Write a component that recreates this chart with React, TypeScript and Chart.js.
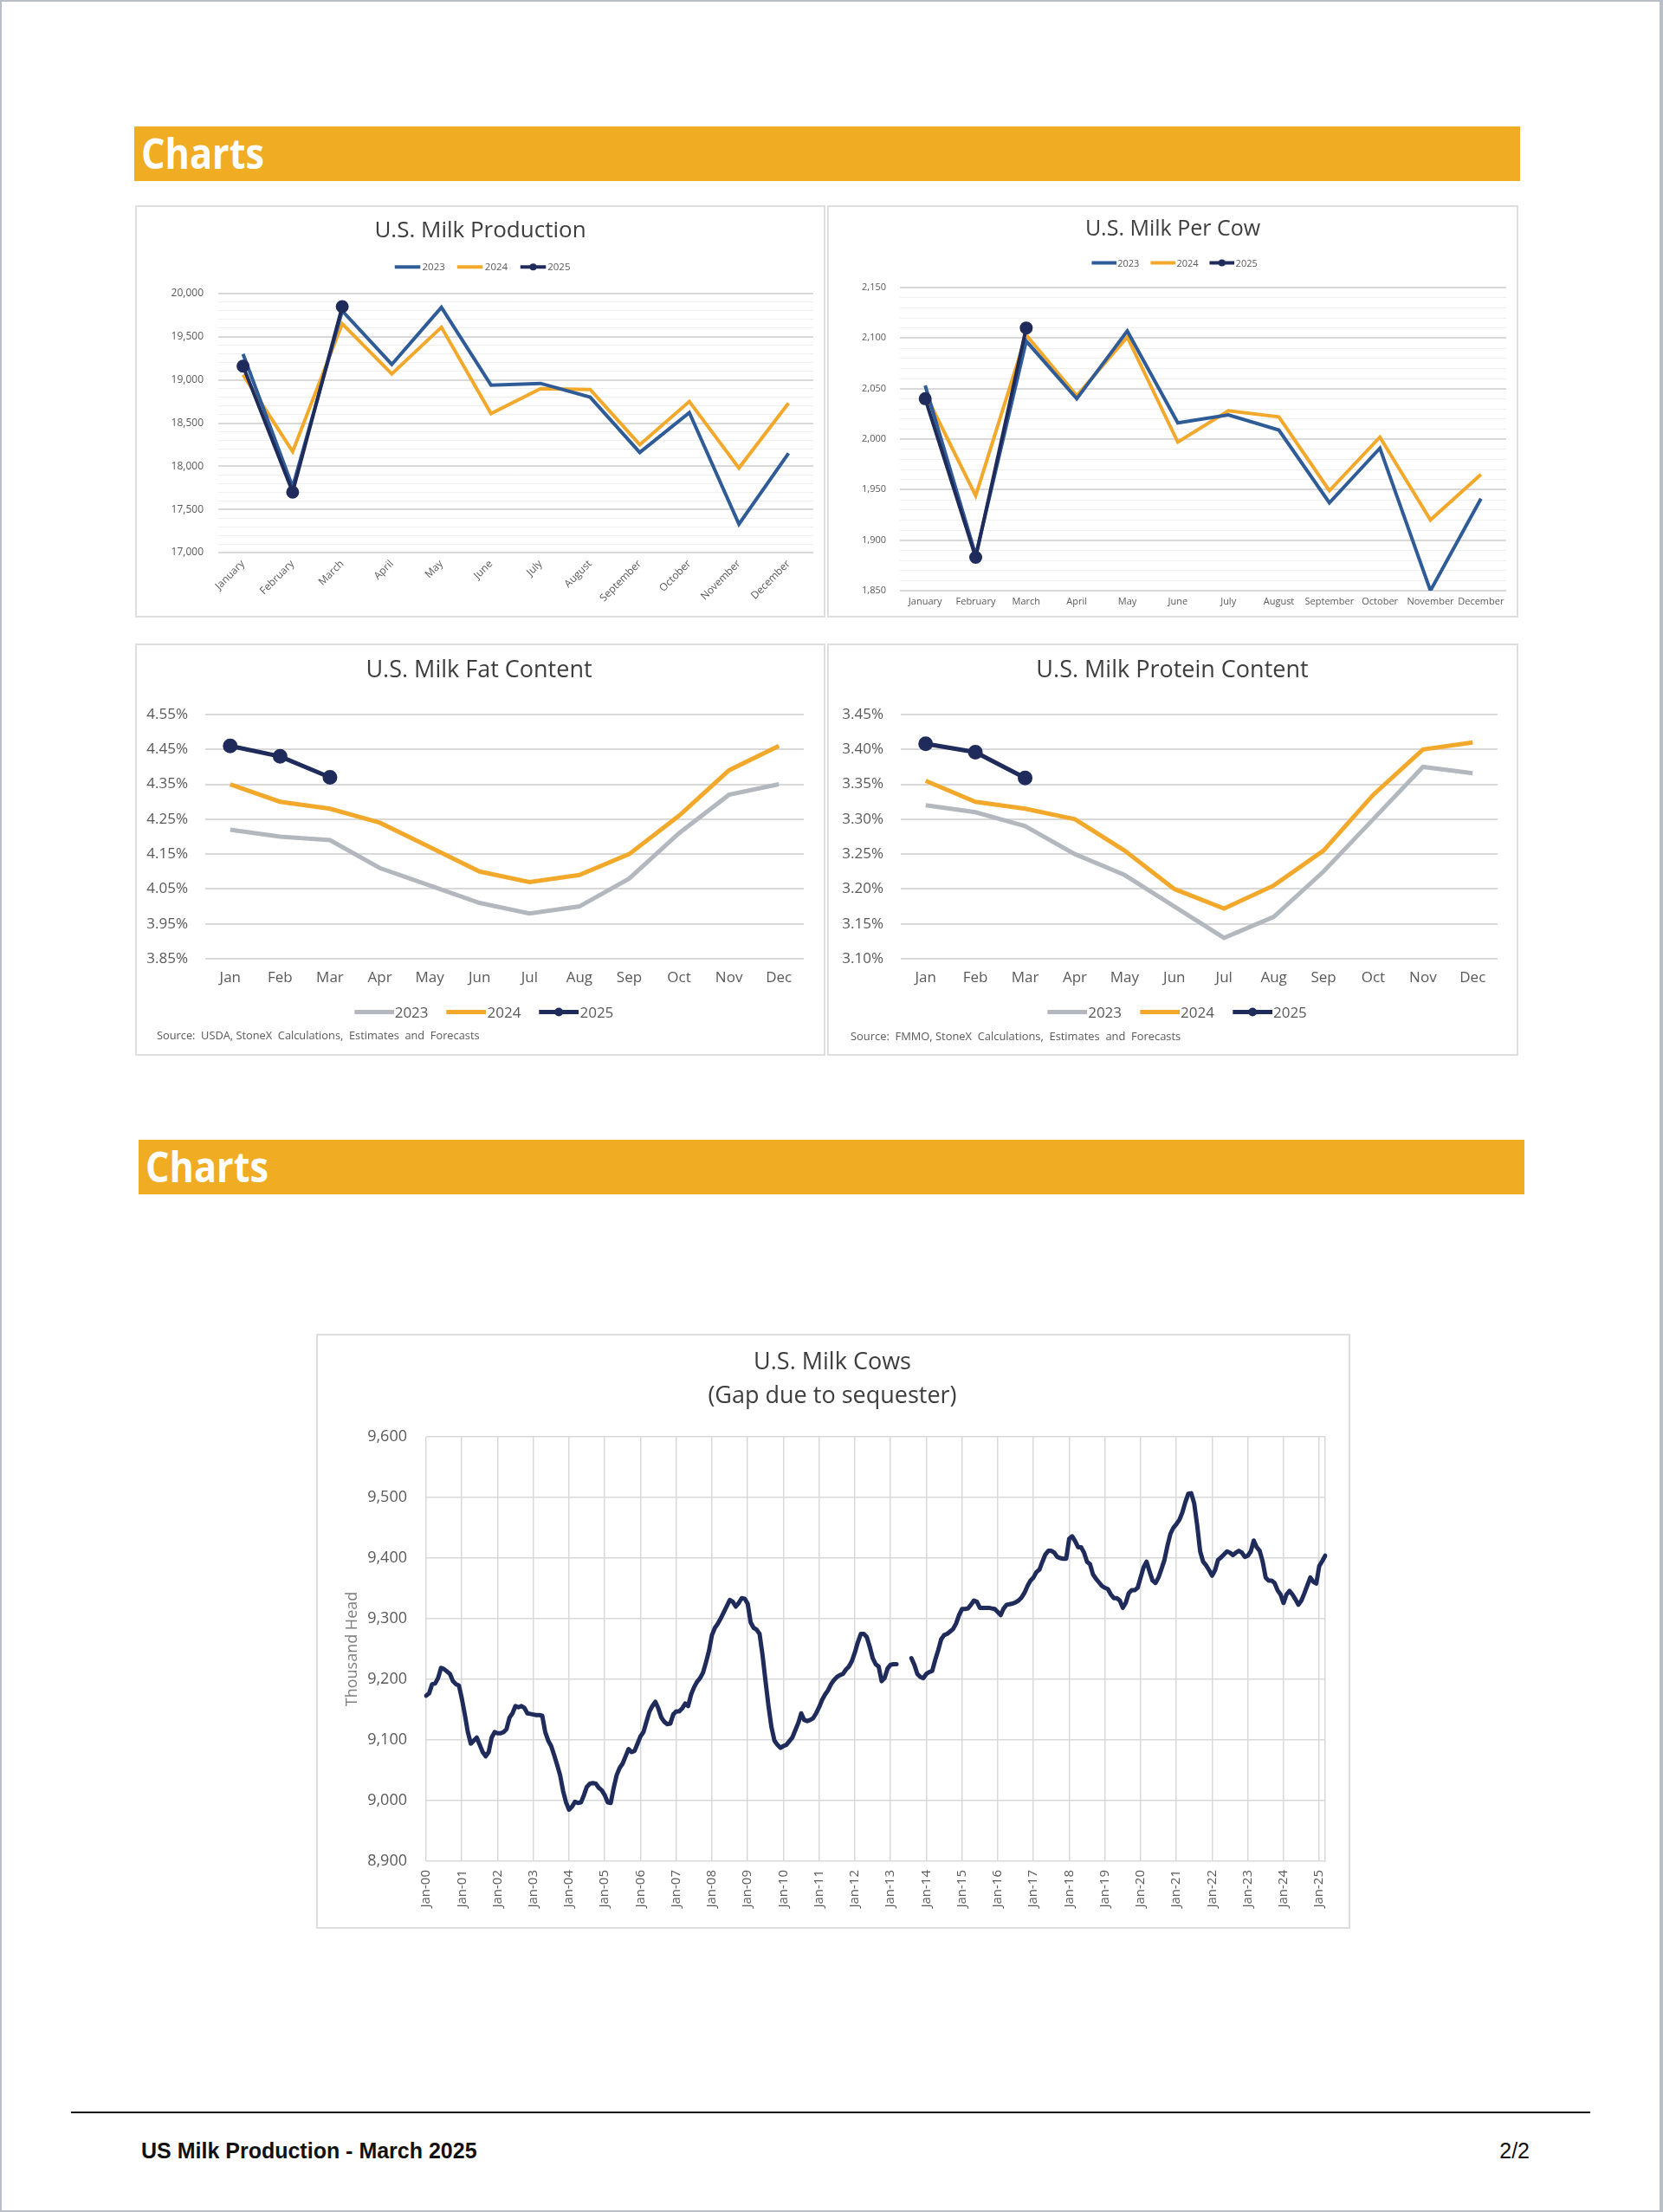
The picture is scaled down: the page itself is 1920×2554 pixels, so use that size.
import React, { useEffect, useRef } from 'react';
import { Chart, registerables } from 'chart.js';

Chart.register(...registerables);

const FONT = "'Open Sans', sans-serif";
const NAVY = '#1f2b5b';
const BLUE = '#2f5c97';
const ORANGE = '#f2a92b';
const GREY = '#b3b8bf';
const TICK = '#595959';
const TITLE = '#3d3d3d';
const GRID = '#d9d9d9';
const GRID_MINOR = '#efefef';

// ---------- data ----------
const monthsLong = ['January', 'February', 'March', 'April', 'May', 'June', 'July', 'August', 'September', 'October', 'November', 'December'];
const monthsShort = ['Jan', 'Feb', 'Mar', 'Apr', 'May', 'Jun', 'Jul', 'Aug', 'Sep', 'Oct', 'Nov', 'Dec'];

const production2023 = [19300, 17760, 19800, 19180, 19840, 18940, 18960, 18800, 18160, 18620, 17330, 18150];
const production2024 = [19060, 18170, 19650, 19070, 19610, 18610, 18900, 18890, 18250, 18750, 17980, 18730];
const production2025 = [19160, 17700, 19850];

const perCow2023 = [2053, 1885, 2097, 2040, 2107, 2016, 2024, 2009, 1937, 1991, 1850, 1941];
const perCow2024 = [2045, 1944, 2103, 2043, 2101, 1997, 2028, 2022, 1949, 2002, 1920, 1965];
const perCow2025 = [2040, 1883, 2110];

const fat2023 = [4.22, 4.2, 4.19, 4.11, 4.06, 4.01, 3.98, 4.0, 4.08, 4.21, 4.32, 4.35];
const fat2024 = [4.35, 4.3, 4.28, 4.24, 4.17, 4.1, 4.07, 4.09, 4.15, 4.26, 4.39, 4.46];
const fat2025 = [4.46, 4.43, 4.37];

const protein2023 = [3.32, 3.31, 3.29, 3.25, 3.22, 3.175, 3.13, 3.16, 3.225, 3.3, 3.375, 3.366];
const protein2024 = [3.355, 3.325, 3.315, 3.3, 3.255, 3.2, 3.172, 3.205, 3.255, 3.335, 3.4, 3.41];
const protein2025 = [3.408, 3.396, 3.359];

// U.S. milk cows, thousand head, monthly Jan-2000 .. Mar-2025 (gap in 2013)
const milkCows: (number | null)[] = [
  9173, 9177, 9192, 9193, 9202, 9219, 9217, 9213, 9209, 9197, 9192, 9190,
  9168, 9142, 9113, 9094, 9099, 9104, 9092, 9080, 9073, 9080, 9104, 9113,
  9111, 9111, 9113, 9118, 9137, 9144, 9156, 9154, 9156, 9153, 9144, 9143,
  9142, 9141, 9141, 9140, 9113, 9099, 9090, 9075, 9059, 9042, 9016, 8997,
  8985, 8990, 8998, 8996, 8997, 9009, 9023, 9028, 9029, 9028, 9021, 9017,
  9009, 8997, 8996, 9021, 9042, 9054, 9061, 9073, 9085, 9080, 9082, 9094,
  9106, 9113, 9130, 9147, 9156, 9163, 9152, 9137, 9130, 9126, 9127, 9142,
  9147, 9147, 9152, 9160, 9156, 9175, 9187, 9196, 9202, 9211, 9228, 9247,
  9273, 9285, 9292, 9301, 9311, 9321, 9331, 9328, 9320, 9326, 9334, 9333,
  9325, 9294, 9285, 9282, 9275, 9240, 9197, 9156, 9121, 9099, 9092, 9087,
  9090, 9092, 9098, 9104, 9116, 9128, 9144, 9133, 9131, 9133, 9136, 9144,
  9154, 9166, 9175, 9182, 9192, 9199, 9204, 9207, 9209, 9216, 9221, 9230,
  9244, 9261, 9275, 9275, 9270, 9254, 9235, 9225, 9221, 9197, 9202, 9218,
  9224, 9225, 9225, null, null, null, null, 9235, 9224, 9209, 9204, 9202,
  9209, 9212, 9214, 9232, 9248, 9266, 9273, 9275, 9279, 9283, 9292, 9306,
  9316, 9316, 9317, 9323, 9330, 9328, 9318, 9318, 9318, 9318, 9317, 9316,
  9311, 9306, 9317, 9323, 9324, 9325, 9327, 9330, 9335, 9343, 9354, 9363,
  9368, 9377, 9381, 9394, 9406, 9412, 9412, 9409, 9402, 9400, 9399, 9399,
  9432, 9436, 9428, 9418, 9418, 9409, 9394, 9390, 9373, 9366, 9360, 9354,
  9351, 9349, 9340, 9334, 9334, 9330, 9318, 9326, 9342, 9347, 9347, 9351,
  9368, 9385, 9394, 9378, 9363, 9359, 9368, 9382, 9397, 9420, 9440, 9450,
  9456, 9463, 9475, 9492, 9506, 9507, 9490, 9454, 9411, 9394, 9388, 9380,
  9371, 9380, 9397, 9401, 9406, 9411, 9409, 9405, 9409, 9412, 9409, 9402,
  9404, 9411, 9429, 9418, 9412, 9394, 9368, 9363, 9363, 9359, 9347, 9340,
  9326, 9340, 9346, 9340, 9332, 9323, 9330, 9342, 9355, 9368, 9361, 9358,
  9387, 9395, 9404,
];
const cowStartYear = 2000;
const cowLabels: string[] = milkCows.map((_, i) => {
  const y = (cowStartYear + Math.floor(i / 12)) % 100;
  return `${monthsShort[i % 12]}-${String(y).padStart(2, '0')}`;
});

// ---------- helpers ----------
const font = (size: number) => ({ family: FONT, size, weight: 'normal' as const });

function ChartCanvas({ x, y, w, h, config }: { x: number; y: number; w: number; h: number; config: any }) {
  const ref = useRef<HTMLCanvasElement | null>(null);
  useEffect(() => {
    const chart = new Chart(ref.current as HTMLCanvasElement, config);
    return () => chart.destroy();
  }, []);
  return (
    <canvas
      ref={ref}
      width={w}
      height={h}
      style={{ position: 'absolute', left: x, top: y, width: w, height: h }}
    />
  );
}

function Box({ x, y, w, h }: { x: number; y: number; w: number; h: number }) {
  return (
    <div
      style={{
        position: 'absolute', left: x, top: y, width: w, height: h,
        boxSizing: 'border-box', border: '2px solid #dedede', background: '#fff',
      }}
    />
  );
}

function Txt(props: {
  x: number; baseline: number; size: number; text: string; align?: 'left' | 'center' | 'right';
  weight?: number; color?: string; family?: string; asc?: number; desc?: number; scaleX?: number; pre?: boolean;
}) {
  const { x, baseline, size, text, align = 'center', weight = 400, color = TITLE, family = FONT, asc = 1.069, desc = 0.293, scaleX = 1, pre } = props;
  const top = baseline - asc * size;
  let transform = '';
  let origin = 'left center';
  if (align === 'center') { transform = `translateX(-50%) scaleX(${scaleX})`; origin = 'center center'; }
  else if (align === 'right') { transform = `translateX(-100%) scaleX(${scaleX})`; origin = 'right center'; }
  else transform = `scaleX(${scaleX})`;
  return (
    <div
      style={{
        position: 'absolute', left: x, top, fontSize: size, lineHeight: `${(asc + desc) * size}px`,
        fontFamily: family, fontWeight: weight, color, whiteSpace: pre ? 'pre' : 'nowrap',
        transform, transformOrigin: origin,
      }}
    >
      {text}
    </div>
  );
}

type LegendItem = { label: string; color: string; marker?: boolean };
function Legend(props: {
  cx: number; cy: number; items: LegendItem[]; lineW: number; thick: number; size: number;
  gapLine: number; gapItem: number; markerR: number;
}) {
  const { cx, cy, items, lineW, thick, size, gapLine, gapItem, markerR } = props;
  const svgH = Math.max(thick, markerR * 2) + 2;
  return (
    <div
      style={{
        position: 'absolute', left: cx, top: cy, transform: 'translate(-50%, -50%)',
        display: 'flex', alignItems: 'center', whiteSpace: 'nowrap', fontFamily: FONT,
        fontSize: size, color: TICK, lineHeight: 1,
      }}
    >
      {items.map((it, i) => (
        <div key={it.label} style={{ display: 'flex', alignItems: 'center', marginLeft: i ? gapItem : 0 }}>
          <svg width={lineW} height={svgH} style={{ display: 'block' }}>
            <line x1={0} x2={lineW} y1={svgH / 2} y2={svgH / 2} stroke={it.color} strokeWidth={thick} />
            {it.marker ? <circle cx={lineW / 2} cy={svgH / 2} r={markerR} fill={it.color} /> : null}
          </svg>
          <span style={{ marginLeft: gapLine }}>{it.label}</span>
        </div>
      ))}
    </div>
  );
}

const baseOptions = {
  animation: false as const,
  responsive: false,
  events: [] as any[],
  plugins: { legend: { display: false }, title: { display: false }, tooltip: { enabled: false } },
  elements: { line: { tension: 0 } },
};

function yearSeries(d23: number[], d24: number[], d25: number[], c23: string, w: number, r: number) {
  return [
    { label: '2025', data: d25, borderColor: NAVY, backgroundColor: NAVY, borderWidth: w, pointRadius: r, pointBackgroundColor: NAVY, pointBorderColor: NAVY, order: 0 },
    { label: '2023', data: d23, borderColor: c23, backgroundColor: c23, borderWidth: w, pointRadius: 0, order: 1 },
    { label: '2024', data: d24, borderColor: ORANGE, backgroundColor: ORANGE, borderWidth: w, pointRadius: 0, order: 2 },
  ];
}

// ---------- chart configs ----------
const productionConfig = {
  type: 'line',
  data: { labels: monthsLong, datasets: yearSeries(production2023, production2024, production2025, BLUE, 4, 5.5) },
  options: {
    ...baseOptions,
    layout: { padding: { left: 0, right: 14, top: 102, bottom: 0 } },
    scales: {
      x: {
        offset: true,
        grid: { display: false, drawTicks: false },
        border: { display: false },
        ticks: { minRotation: 45, maxRotation: 45, autoSkip: false, padding: 6, color: TICK, font: font(12) },
        afterFit: (s: any) => { s.height = 75; },
      },
      y: {
        min: 17000, max: 20000,
        border: { display: false },
        grid: {
          drawTicks: false,
          color: (c: any) => (c.tick && c.tick.value % 500 === 0 ? GRID : GRID_MINOR),
          lineWidth: (c: any) => (c.tick && c.tick.value % 500 === 0 ? 2 : 1),
        },
        ticks: {
          stepSize: 100, autoSkip: false, padding: 17, color: TICK, font: font(12),
          callback: (v: any) => (Number(v) % 500 === 0 ? Number(v).toLocaleString('en-US') : ''),
        },
        afterFit: (s: any) => { s.width = 96; },
      },
    },
  },
};

const perCowConfig = {
  type: 'line',
  data: { labels: monthsLong, datasets: yearSeries(perCow2023, perCow2024, perCow2025, BLUE, 4, 5.5) },
  options: {
    ...baseOptions,
    layout: { padding: { left: 0, right: 14, top: 95, bottom: 0 } },
    scales: {
      x: {
        offset: true,
        grid: { display: false, drawTicks: false },
        border: { display: false },
        ticks: { maxRotation: 0, minRotation: 0, autoSkip: false, padding: 6, color: TICK, font: font(11) },
        afterFit: (s: any) => { s.height = 31; },
      },
      y: {
        min: 1850, max: 2150,
        border: { display: false },
        grid: {
          drawTicks: false,
          color: (c: any) => (c.tick && c.tick.value % 50 === 0 ? GRID : GRID_MINOR),
          lineWidth: (c: any) => (c.tick && c.tick.value % 50 === 0 ? 2 : 1),
        },
        ticks: {
          stepSize: 10, autoSkip: false, padding: 16, color: TICK, font: font(11),
          callback: (v: any) => (Number(v) % 50 === 0 ? Number(v).toLocaleString('en-US') : ''),
        },
        afterFit: (s: any) => { s.width = 84; },
      },
    },
  },
};

function pctConfig(d23: number[], d24: number[], d25: number[], min: number, max: number, step: number, yWidth: number, right: number) {
  return {
    type: 'line',
    data: { labels: monthsShort, datasets: yearSeries(d23, d24, d25, GREY, 5, 6) },
    options: {
      ...baseOptions,
      layout: { padding: { left: 0, right, top: 82, bottom: 62 } },
      scales: {
        x: {
          offset: true,
          grid: { display: false, drawTicks: false },
          border: { display: false },
          ticks: { maxRotation: 0, minRotation: 0, autoSkip: false, padding: 12, color: TICK, font: font(17) },
          afterFit: (s: any) => { s.height = 50; },
        },
        y: {
          min, max,
          border: { display: false },
          grid: { drawTicks: false, color: GRID, lineWidth: 2 },
          ticks: {
            stepSize: step, autoSkip: false, padding: 20, color: TICK, font: font(17),
            callback: (v: any) => `${Number(v).toFixed(2)}%`,
          },
          afterFit: (s: any) => { s.width = yWidth; },
        },
      },
    },
  };
}

const fatConfig = pctConfig(fat2023, fat2024, fat2025, 3.85, 4.55, 0.1, 81, 25);
const proteinConfig = pctConfig(protein2023, protein2024, protein2025, 3.1, 3.45, 0.05, 85, 24);

const cowsConfig = {
  type: 'line',
  data: {
    labels: cowLabels,
    datasets: [
      { label: 'Milk Cows', data: milkCows, borderColor: NAVY, backgroundColor: NAVY, borderWidth: 5, pointRadius: 0, spanGaps: false, borderJoinStyle: 'round', borderCapStyle: 'round' },
    ],
  },
  options: {
    ...baseOptions,
    layout: { padding: { left: 0, right: 29, top: 119, bottom: 0 } },
    scales: {
      x: {
        grid: { drawTicks: false, color: GRID, lineWidth: 1.5 },
        border: { display: false },
        ticks: {
          autoSkip: false, minRotation: 90, maxRotation: 90, padding: 10, color: TICK, font: font(15),
          callback: (_v: any, i: number) => (cowLabels[i].startsWith('Jan') ? cowLabels[i] : null),
        },
        afterFit: (s: any) => { s.height = 78; },
      },
      y: {
        min: 8900, max: 9600,
        border: { display: false },
        grid: { drawTicks: false, color: GRID, lineWidth: 1.5 },
        ticks: {
          stepSize: 100, padding: 22, color: TICK, font: font(18),
          callback: (v: any) => Number(v).toLocaleString('en-US'),
        },
        title: { display: true, text: 'Thousand Head', color: '#7f7f7f', font: font(18), padding: { top: 31, bottom: 0 } },
        afterFit: (s: any) => { s.width = 127; },
      },
      y2: {
        position: 'right',
        min: 8900, max: 9600,
        ticks: { display: false },
        grid: { display: false, drawTicks: false },
        border: { display: true, color: GRID, width: 1.5 },
        afterFit: (s: any) => { s.width = 0; },
      },
    },
  },
};

const legend2023_24_25 = (c23: string): LegendItem[] => [
  { label: '2023', color: c23 },
  { label: '2024', color: ORANGE },
  { label: '2025', color: NAVY, marker: true },
];

export default function App() {
  return (
    <div
      style={{
        position: 'absolute', left: 0, top: 0, width: 1920, height: 2554, background: '#fff',
        overflow: 'hidden', fontFamily: FONT,
      }}
    >
      {/* page frame */}
      <div
        style={{
          position: 'absolute', left: 0, top: 0, width: 1920, height: 2554, boxSizing: 'border-box',
          borderTop: '2px solid #b9bec7', borderLeft: '2px solid #b9bec7', borderBottom: '2px solid #b9bec7', borderRight: '4px solid #b9bec7',
        }}
      />

      {/* section header 1 */}
      <div style={{ position: 'absolute', left: 155, top: 146, width: 1600, height: 63, background: '#f0ac22' }} />
      <Txt x={163} baseline={195} size={48} text="Charts" align="left" weight={700} color="#ffffff" scaleX={0.9} />

      {/* chart 1: production */}
      <Box x={156} y={237} w={797} h={476} />
      <ChartCanvas x={156} y={237} w={797} h={476} config={productionConfig} />
      <Txt x={554.5} baseline={275} size={26} text="U.S. Milk Production" />
      <Legend cx={557} cy={308} items={legend2023_24_25(BLUE)} lineW={30} thick={4} size={11.5} gapLine={2} gapItem={14} markerR={4} />

      {/* chart 2: per cow */}
      <Box x={955} y={237} w={798} h={476} />
      <ChartCanvas x={955} y={237} w={798} h={476} config={perCowConfig} />
      <Txt x={1354} baseline={272} size={25} text="U.S. Milk Per Cow" />
      <Legend cx={1356} cy={303} items={legend2023_24_25(BLUE)} lineW={29} thick={4} size={11} gapLine={1} gapItem={13} markerR={4} />

      {/* chart 3: fat */}
      <Box x={156} y={743} w={797} h={476} />
      <ChartCanvas x={156} y={743} w={797} h={476} config={fatConfig} />
      <Txt x={553} baseline={783} size={27} text="U.S. Milk Fat Content" />
      <Legend cx={558.5} cy={1168} items={legend2023_24_25(GREY)} lineW={46} thick={5} size={17} gapLine={1} gapItem={21} markerR={5} />
      <Txt x={181} baseline={1201} size={12.8} text="Source:  USDA, StoneX  Calculations,  Estimates  and  Forecasts" align="left" color={TICK} pre />

      {/* chart 4: protein */}
      <Box x={955} y={743} w={798} h={476} />
      <ChartCanvas x={955} y={743} w={798} h={476} config={proteinConfig} />
      <Txt x={1353.5} baseline={783} size={27} text="U.S. Milk Protein Content" />
      <Legend cx={1359} cy={1168} items={legend2023_24_25(GREY)} lineW={46} thick={5} size={17} gapLine={1} gapItem={21} markerR={5} />
      <Txt x={982} baseline={1202} size={12.9} text="Source:  FMMO, StoneX  Calculations,  Estimates  and  Forecasts" align="left" color={TICK} pre />

      {/* section header 2 */}
      <div style={{ position: 'absolute', left: 160, top: 1316, width: 1600, height: 63, background: '#f0ac22' }} />
      <Txt x={168} baseline={1365} size={48} text="Charts" align="left" weight={700} color="#ffffff" scaleX={0.9} />

      {/* chart 5: milk cows */}
      <Box x={365} y={1540} w={1194} h={687} />
      <ChartCanvas x={365} y={1540} w={1194} h={687} config={cowsConfig} />
      <Txt x={961} baseline={1582} size={27} text="U.S. Milk Cows" />
      <Txt x={961} baseline={1620.5} size={27} text="(Gap due to sequester)" />

      {/* footer */}
      <div style={{ position: 'absolute', left: 82, top: 2438, width: 1754, height: 2, background: '#111' }} />
      <Txt x={163} baseline={2493} size={25} text="US Milk Production - March 2025" align="left" weight={700} color="#111" family="'Liberation Sans', Arial, sans-serif" asc={0.905} desc={0.212} />
      <Txt x={1766} baseline={2493} size={25} text="2/2" align="right" color="#111" family="'Liberation Sans', Arial, sans-serif" asc={0.905} desc={0.212} />
    </div>
  );
}
